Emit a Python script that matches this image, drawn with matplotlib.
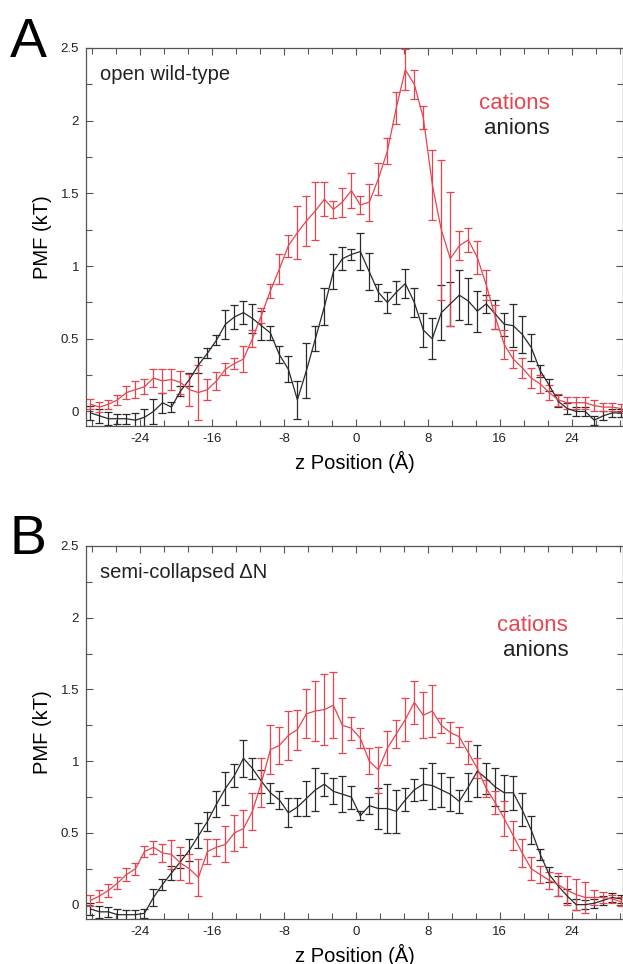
import numpy as np
import matplotlib
matplotlib.use('Agg')
import matplotlib.pyplot as plt
from matplotlib.ticker import MultipleLocator, StrMethodFormatter

plt.rcParams['font.family'] = ['Liberation Sans', 'DejaVu Sans']
plt.rcParams['axes.unicode_minus'] = False

# bin centres along the pore axis (Angstrom)
z = np.arange(-29.5, 30, 1.0)

# panel A: open wild-type
cations_a = [0.05, 0.03, 0.05, 0.08, 0.13, 0.15, 0.17, 0.23, 0.21, 0.22,
             0.20, 0.15, 0.13, 0.15, 0.21, 0.29, 0.33, 0.36, 0.50, 0.66,
             0.83, 0.98, 1.14, 1.23, 1.31, 1.38, 1.46, 1.39, 1.44, 1.52,
             1.42, 1.44, 1.60, 1.79, 2.09, 2.35, 2.25, 2.02, 1.56, 1.25,
             1.05, 1.14, 1.18, 1.06, 0.87, 0.65, 0.46, 0.36, 0.30, 0.23,
             0.19, 0.13, 0.08, 0.06, 0.06, 0.06, 0.04, 0.03, 0.03, 0.02]
cations_a_err = [0.035, 0.035, 0.03, 0.035, 0.046, 0.058, 0.05, 0.063, 0.08, 0.07,
                 0.08, 0.11, 0.19, 0.07, 0.063, 0.04, 0.04, 0.09, 0.06, 0.05,
                 0.05, 0.1, 0.075, 0.18, 0.17, 0.2, 0.115, 0.06, 0.1, 0.12,
                 0.06, 0.127, 0.11, 0.09, 0.11, 0.14, 0.1, 0.08, 0.24, 0.48,
                 0.46, 0.1, 0.08, 0.115, 0.1, 0.08, 0.1, 0.06, 0.07, 0.07,
                 0.06, 0.05, 0.04, 0.04, 0.04, 0.04, 0.04, 0.03, 0.03, 0.03]
anions_a = [-0.01, -0.03, -0.05, -0.05, -0.05, -0.06, -0.04, 0.00, 0.06, 0.03,
            0.14, 0.22, 0.32, 0.40, 0.49, 0.60, 0.65, 0.68, 0.64, 0.59,
            0.54, 0.39, 0.29, 0.08, 0.28, 0.50, 0.72, 0.96, 1.05, 1.08,
            1.10, 0.96, 0.82, 0.75, 0.82, 0.88, 0.75, 0.56, 0.50, 0.68,
            0.74, 0.80, 0.76, 0.69, 0.74, 0.67, 0.60, 0.59, 0.53, 0.44,
            0.28, 0.18, 0.07, 0.02, 0.00, 0.00, -0.06, -0.03, -0.01, -0.01]
anions_a_err = [0.046, 0.046, 0.046, 0.035, 0.035, 0.046, 0.06, 0.085, 0.07, 0.035,
                0.035, 0.046, 0.058, 0.035, 0.035, 0.1, 0.085, 0.08, 0.1, 0.1,
                0.046, 0.06, 0.09, 0.13, 0.19, 0.085, 0.127, 0.12, 0.08, 0.04,
                0.13, 0.127, 0.06, 0.07, 0.08, 0.1, 0.1, 0.115, 0.14, 0.19,
                0.15, 0.17, 0.16, 0.14, 0.06, 0.1, 0.08, 0.15, 0.13, 0.09,
                0.04, 0.04, 0.04, 0.04, 0.03, 0.03, 0.03, 0.03, 0.03, 0.03]

# panel B: semi-collapsed delta N
cations_b = [0.03, 0.06, 0.10, 0.15, 0.21, 0.25, 0.37, 0.40, 0.36, 0.35,
             0.29, 0.25, 0.19, 0.37, 0.40, 0.42, 0.50, 0.53, 0.65, 0.85,
             1.08, 1.11, 1.18, 1.22, 1.33, 1.35, 1.36, 1.39, 1.25, 1.23,
             1.16, 1.00, 0.94, 1.09, 1.19, 1.29, 1.41, 1.32, 1.35, 1.25,
             1.20, 1.17, 1.06, 0.95, 0.81, 0.71, 0.60, 0.48, 0.36, 0.25,
             0.21, 0.17, 0.14, 0.10, 0.07, 0.05, 0.05, 0.05, 0.04, 0.02]
cations_b_err = [0.04, 0.04, 0.045, 0.04, 0.045, 0.04, 0.04, 0.045, 0.06, 0.1,
                 0.115, 0.1, 0.13, 0.09, 0.06, 0.125, 0.125, 0.13, 0.13, 0.17,
                 0.17, 0.13, 0.17, 0.14, 0.17, 0.21, 0.25, 0.23, 0.19, 0.08,
                 0.07, 0.09, 0.16, 0.12, 0.1, 0.15, 0.15, 0.16, 0.18, 0.05,
                 0.07, 0.07, 0.08, 0.07, 0.06, 0.08, 0.12, 0.1, 0.1, 0.08,
                 0.06, 0.06, 0.08, 0.1, 0.11, 0.11, 0.05, 0.04, 0.03, 0.03]
anions_b = [-0.03, -0.05, -0.05, -0.07, -0.07, -0.07, -0.06, 0.05, 0.14, 0.22,
            0.30, 0.38, 0.48, 0.58, 0.70, 0.81, 0.90, 1.02, 0.95, 0.86,
            0.78, 0.73, 0.64, 0.68, 0.74, 0.80, 0.84, 0.79, 0.77, 0.75,
            0.62, 0.69, 0.67, 0.67, 0.65, 0.73, 0.80, 0.84, 0.83, 0.80,
            0.77, 0.72, 0.82, 0.93, 0.88, 0.82, 0.78, 0.78, 0.66, 0.52,
            0.35, 0.21, 0.13, 0.06, 0.00, 0.00, 0.01, 0.03, 0.05, 0.04]
anions_b_err = [0.04, 0.04, 0.035, 0.04, 0.035, 0.03, 0.03, 0.06, 0.04, 0.046,
                0.046, 0.075, 0.087, 0.064, 0.092, 0.115, 0.08, 0.13, 0.075, 0.08,
                0.07, 0.06, 0.1, 0.065, 0.125, 0.15, 0.08, 0.09, 0.125, 0.08,
                0.03, 0.06, 0.14, 0.17, 0.15, 0.08, 0.075, 0.11, 0.16, 0.12,
                0.12, 0.08, 0.1, 0.18, 0.11, 0.13, 0.125, 0.12, 0.115, 0.1,
                0.04, 0.05, 0.07, 0.05, 0.04, 0.03, 0.03, 0.03, 0.03, 0.03]

red = '#e8444f'
dark = '#2a2a2a'
frame = '#555555'

fig = plt.figure(figsize=(6.23, 9.64), dpi=100)
ax_a = fig.add_axes([86 / 623, 1 - 426 / 964, 537 / 623, 378 / 964])
ax_b = fig.add_axes([86 / 623, 1 - 919 / 964, 537 / 623, 373 / 964])


def draw_panel(ax, cat, cat_err, an, an_err, title, leg_x, leg_y):
    ax.errorbar(z, an, yerr=an_err, color=dark, lw=0.9, elinewidth=0.9,
                capsize=3, capthick=0.9)
    ax.errorbar(z, cat, yerr=cat_err, color=red, lw=0.9, elinewidth=0.9,
                capsize=3, capthick=0.9)
    ax.set_xlim(-30, 29.7)
    ax.set_ylim(-0.1, 2.5)
    ax.xaxis.set_major_locator(MultipleLocator(8))
    ax.xaxis.set_minor_locator(MultipleLocator(8 / 3))
    ax.yaxis.set_major_locator(MultipleLocator(0.5))
    ax.yaxis.set_minor_locator(MultipleLocator(0.25))
    ax.yaxis.set_major_formatter(StrMethodFormatter('{x:g}'))
    ax.tick_params(which='both', direction='in', top=True, right=True,
                   width=0.8, color=frame, labelsize=9.5, labelcolor='#222222')
    ax.tick_params(which='major', length=5, pad=5)
    ax.tick_params(which='minor', length=4)
    for sp in ax.spines.values():
        sp.set_color(frame)
        sp.set_linewidth(0.9)
    ax.set_xlabel('z Position (Å)', fontsize=14.5, labelpad=4)
    ax.set_ylabel('PMF (kT)', fontsize=14.5, labelpad=6)
    ax.text(0.026, 0.93, title, transform=ax.transAxes, fontsize=14.5,
            va='center', ha='left', color='#222222')
    ax.text(leg_x, leg_y, 'cations', transform=ax.transAxes, fontsize=16,
            va='center', ha='right', color=red)
    ax.text(leg_x, leg_y - 0.066, 'anions', transform=ax.transAxes, fontsize=16,
            va='center', ha='right', color='#222222')


draw_panel(ax_a, cations_a, cations_a_err, anions_a, anions_a_err,
           'open wild-type', 0.864, 0.852)
draw_panel(ax_b, cations_b, cations_b_err, anions_b, anions_b_err,
           'semi-collapsed ΔN', 0.898, 0.787)

fig.text(10 / 623, 1 - 57 / 964, 'A', fontsize=40, ha='left', va='baseline')
fig.text(10 / 623, 1 - 554 / 964, 'B', fontsize=40, ha='left', va='baseline')

plt.savefig('out.png', dpi=100)
